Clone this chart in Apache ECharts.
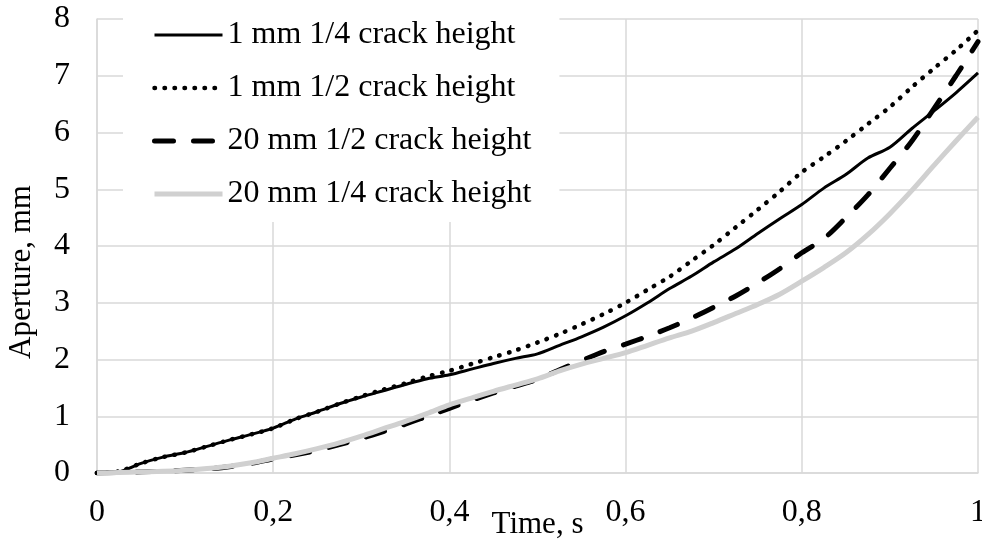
<!DOCTYPE html>
<html>
<head>
<meta charset="utf-8">
<script src="https://cdn.jsdelivr.net/npm/echarts@6/dist/echarts.min.js"></script>
<style>
  html, body { margin: 0; padding: 0; background: #fff; }
  #chart { width: 982px; height: 542px; }
</style>
</head>
<body>
<div id="chart"></div>
<script>
// time, s
var time = [0, 0.025, 0.05, 0.075, 0.1, 0.125, 0.15, 0.175, 0.2, 0.225,
  0.25, 0.275, 0.3, 0.325, 0.35, 0.375, 0.4, 0.425, 0.45, 0.475,
  0.5, 0.525, 0.55, 0.575, 0.6, 0.625, 0.65, 0.675, 0.7, 0.725,
  0.75, 0.775, 0.8, 0.825, 0.85, 0.875, 0.9, 0.925, 0.95, 0.975, 1]

// aperture, mm
var mm1Quarter = [0, 0.02, 0.17, 0.28, 0.36, 0.47, 0.58, 0.68, 0.79, 0.95,
  1.08, 1.22, 1.34, 1.45, 1.56, 1.66, 1.73, 1.83, 1.93, 2.02,
  2.1, 2.25, 2.4, 2.57, 2.77, 3.0, 3.25, 3.47, 3.72, 3.95,
  4.22, 4.48, 4.73, 5.02, 5.26, 5.55, 5.74, 6.07, 6.38, 6.7, 7.05]
var mm1Half = [0, 0.03, 0.17, 0.28, 0.36, 0.47, 0.58, 0.68, 0.79, 0.95,
  1.08, 1.22, 1.35, 1.47, 1.58, 1.7, 1.8, 1.92, 2.04, 2.16,
  2.3, 2.45, 2.62, 2.8, 3.0, 3.23, 3.46, 3.74, 4.02, 4.33,
  4.64, 4.96, 5.3, 5.57, 5.85, 6.15, 6.45, 6.8, 7.13, 7.45, 7.8]
var mm20Half = [0, 0.01, 0.02, 0.03, 0.05, 0.07, 0.11, 0.17, 0.25, 0.32,
  0.4, 0.5, 0.61, 0.73, 0.86, 1.0, 1.14, 1.28, 1.41, 1.53,
  1.65, 1.82, 1.98, 2.14, 2.27, 2.41, 2.56, 2.73, 2.92, 3.12,
  3.35, 3.6, 3.88, 4.13, 4.5, 4.9, 5.37, 5.85, 6.42, 7.0, 7.6]
var mm20Quarter = [0, 0.01, 0.02, 0.03, 0.05, 0.08, 0.12, 0.18, 0.26, 0.34,
  0.43, 0.53, 0.65, 0.78, 0.91, 1.05, 1.2, 1.32, 1.44, 1.55,
  1.66, 1.8, 1.92, 2.02, 2.12, 2.25, 2.38, 2.5, 2.65, 2.81,
  2.97, 3.15, 3.38, 3.62, 3.88, 4.2, 4.57, 4.98, 5.42, 5.85, 6.27]

var seriesNames = ['1 mm 1/4 crack height', '1 mm 1/2 crack height', '20 mm 1/2 crack height', '20 mm 1/4 crack height']

var FONT = 'Liberation Serif'

// line styles shared by series and legend
var solidStyle = { color: '#000', width: 3 }
var dotStyle = { color: '#000', width: 4.5, type: [0.5, 9.5], cap: 'round' }
var dashStyle = { color: '#000', width: 5, type: [19, 20], cap: 'round' }
var grayStyle = { color: '#d0d0d0', width: 5 }

function pairs (ys) {
  return time.map(function (t, i) { return [t, ys[i]] })
}

var myChart = echarts.init(document.getElementById('chart'))

var option = {
  animation: false,
  backgroundColor: '#fff',
  grid: {
    left: 97,
    right: 4,
    top: 19,
    bottom: 69,
    outerBoundsMode: 'none'
  },
  legend: {
    orient: 'vertical',
    left: 123,
    top: 5,
    padding: [14, 28, 12, 29],
    backgroundColor: '#fff',
    itemWidth: 68,
    itemHeight: 14,
    itemGap: 21,
    itemStyle: { opacity: 0 },
    textStyle: {
      fontFamily: FONT,
      fontSize: 32,
      lineHeight: 32,
      color: '#000'
    },
    data: [
      { name: seriesNames[0], lineStyle: solidStyle },
      { name: seriesNames[1], lineStyle: dotStyle },
      { name: seriesNames[2], lineStyle: dashStyle },
      { name: seriesNames[3], lineStyle: grayStyle }
    ]
  },
  xAxis: {
    type: 'value',
    min: 0,
    max: 1,
    interval: 0.2,
    name: 'Time, s',
    nameLocation: 'middle',
    nameGap: 36,
    nameMoveOverlap: false,
    nameTextStyle: { fontFamily: FONT, fontSize: 31, color: '#000' },
    axisLine: { show: true, lineStyle: { color: '#d9d9d9', width: 1.5 } },
    axisTick: { show: false },
    axisLabel: {
      fontFamily: FONT,
      fontSize: 32,
      color: '#000',
      margin: 24,
      formatter: function (v) { return String(v).replace('.', ',') }
    },
    splitLine: { show: true, lineStyle: { color: '#d9d9d9', width: 1.5 } }
  },
  yAxis: {
    type: 'value',
    min: 0,
    max: 8,
    interval: 1,
    axisLine: { show: true, lineStyle: { color: '#d9d9d9', width: 1.5 } },
    axisTick: { show: false },
    axisLabel: {
      fontFamily: FONT,
      fontSize: 32,
      color: '#000',
      margin: 27
    },
    splitLine: { show: true, lineStyle: { color: '#d9d9d9', width: 1.5 } }
  },
  // y axis title sits a bit below the middle in the original
  graphic: [{
    type: 'text',
    x: 22,
    y: 272,
    rotation: Math.PI / 2,
    style: {
      text: 'Aperture, mm',
      font: '31px "Liberation Serif"',
      fill: '#000',
      align: 'center',
      verticalAlign: 'middle'
    }
  }],
  series: [
    {
      name: seriesNames[0],
      type: 'line',
      symbol: 'none',
      smooth: 0.3,
      data: pairs(mm1Quarter),
      lineStyle: solidStyle,
      itemStyle: { color: '#000' }
    },
    {
      name: seriesNames[1],
      type: 'line',
      symbol: 'none',
      smooth: 0.3,
      data: pairs(mm1Half),
      lineStyle: dotStyle,
      itemStyle: { color: '#000' }
    },
    {
      name: seriesNames[2],
      type: 'line',
      symbol: 'none',
      smooth: 0.3,
      data: pairs(mm20Half),
      lineStyle: dashStyle,
      itemStyle: { color: '#000' }
    },
    {
      name: seriesNames[3],
      type: 'line',
      symbol: 'none',
      smooth: 0.3,
      data: pairs(mm20Quarter),
      lineStyle: grayStyle,
      itemStyle: { color: '#d0d0d0' }
    }
  ]
}

myChart.setOption(option)
</script>
</body>
</html>
